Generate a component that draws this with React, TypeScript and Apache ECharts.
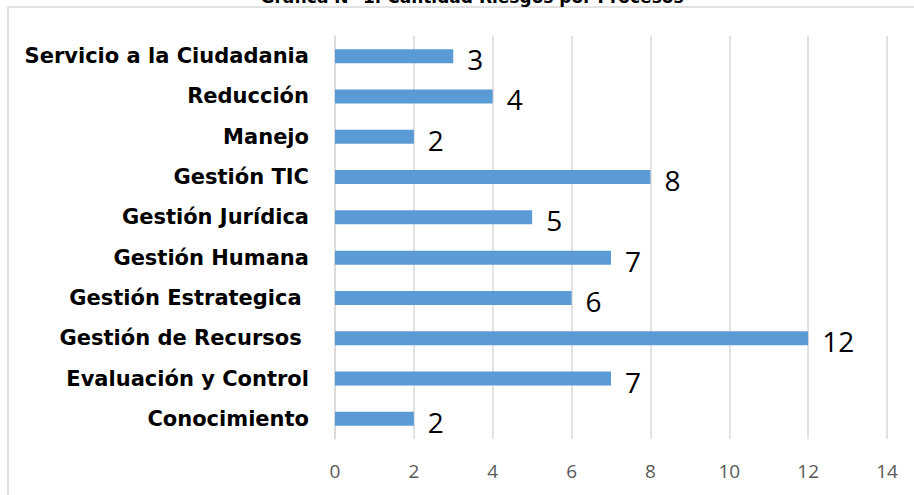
import React, { useEffect, useRef } from "react";
import * as echarts from "echarts";

const categories = [
  "Conocimiento",
  "Evaluación y Control",
  "Gestión de Recursos ",
  "Gestión Estrategica ",
  "Gestión Humana",
  "Gestión Jurídica",
  "Gestión TIC",
  "Manejo",
  "Reducción",
  "Servicio a la Ciudadania",
];
const values = [2, 7, 12, 6, 7, 5, 8, 2, 4, 3];
const xMin = 0;
const xMax = 14;
const xStep = 2;
const titleText = "Gráfica N° 1. Cantidad Riesgos por Procesos";

export default function App() {
  const ref = useRef<HTMLDivElement>(null);
  useEffect(() => {
    if (!ref.current) return;
    const chart = echarts.init(ref.current, null, { renderer: "svg" });
    chart.setOption({
      animation: false,
      backgroundColor: "#ffffff",
      graphic: [
        {
          type: "rect",
          shape: { x: 8, y: 7, width: 1000, height: 600 },
          style: { fill: "none", stroke: "#D9D9D9", lineWidth: 1.5 },
          silent: true,
        },
        {
          type: "text",
          x: 472,
          y: -12,
          style: {
            text: titleText,
            fontFamily: "DejaVu Sans",
            fontWeight: "bold",
            fontSize: 17,
            fill: "#000000",
            align: "center",
            verticalAlign: "top",
          },
        },
      ],
      grid: { left: 335, right: 27, top: 36, bottom: 56, containLabel: false },
      xAxis: {
        type: "value",
        min: xMin,
        max: xMax,
        interval: xStep,
        axisLine: { show: false },
        axisTick: { show: false },
        splitLine: { show: true, lineStyle: { color: "#D9D9D9", width: 1.5 } },
        axisLabel: {
          color: "#595959",
          fontFamily: "Open Sans",
          fontSize: 19,
          margin: 22,
        },
      },
      yAxis: {
        type: "category",
        data: categories,
        axisLine: { show: true, lineStyle: { color: "#D9D9D9", width: 1.5 } },
        axisTick: { show: false },
        axisLabel: {
          color: "#000000",
          fontFamily: "DejaVu Sans",
          fontWeight: "bold",
          fontSize: 21,
          margin: 26,
        },
      },
      series: [
        {
          type: "bar",
          data: values,
          barWidth: 14,
          itemStyle: { color: "#5B9BD5" },
          label: {
            show: true,
            position: "right",
            distance: 14,
            offset: [0, 3],
            color: "#000000",
            fontFamily: "Open Sans",
            fontSize: 28,
          },
        },
      ],
    });
    return () => chart.dispose();
  }, []);
  return (
    <div
      ref={ref}
      style={{ position: "fixed", left: 0, top: 0, width: 914, height: 495 }}
    />
  );
}
